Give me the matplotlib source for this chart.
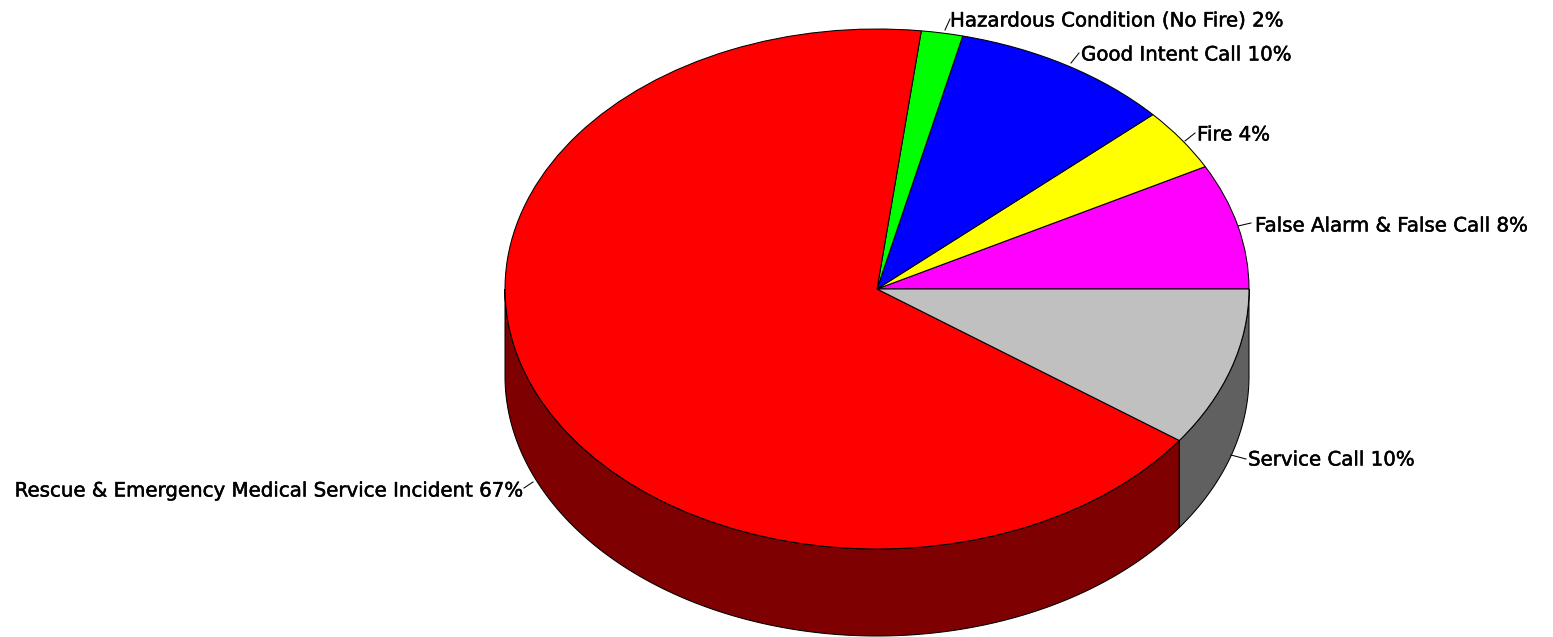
import numpy as np
import matplotlib
matplotlib.use("Agg")
import matplotlib.pyplot as plt
import matplotlib.patheffects as pe

# Data (share of the pie, counter-clockwise from east)
categories = ["False Alarm & False Call", "Fire", "Good Intent Call",
              "Hazardous Condition (No Fire)",
              "Rescue & Emergency Medical Service Incident", "Service Call"]
shares = [7.8, 3.9, 9.6, 1.8, 67.0, 9.9]
shown_percent = [8, 4, 10, 2, 67, 10]

# Styles and layout, in reference pixels
top_colors = ["#ff00ff", "#ffff00", "#0000ff", "#00ff00", "#ff0000", "#c0c0c0"]
wall_colors = ["#800080", "#808000", "#000080", "#008000", "#7f0000", "#606060"]
W, H = 1553, 637
CX, CY, RX, RY, DEPTH = 877, 289, 372, 260, 87
label_anchor = [(1255, 224, "left"), (1197, 133, "left"), (1081, 53, "left"),
                (950, 19, "left"), (521, 489, "right"), (1248, 458, "left")]
leaders = [((1238, 226), (1251, 223)), ((1185, 141), (1195, 133)),
           ((1071, 63), (1079, 53)), ((945, 30), (950, 19)),
           ((533, 482), (524, 488)), ((1231, 455), (1246, 459))]
LINE = 0.75


def ux(px):
    return (px - CX) / RX


def uy(py):
    return (CY - py) / RY


fig = plt.figure(figsize=(W / 100, H / 100), dpi=100, facecolor="white")
ax = fig.add_axes([0, 0, 1, 1])

# side wall: the lower half of the rim of each slice, dropped by the depth
edges = np.cumsum([0] + shares) / sum(shares) * 360.0
drop = DEPTH / RY
for start, end, color in zip(edges[:-1], edges[1:], wall_colors):
    lo, hi = max(start, 180.0), min(end, 360.0)
    if hi <= lo:
        continue
    t = np.radians(np.linspace(lo, hi, 200))
    xs = np.r_[np.cos(t), np.cos(t[::-1])]
    ys = np.r_[np.sin(t) - drop, np.sin(t[::-1])]
    ax.fill(xs, ys, facecolor=color, edgecolor="black", linewidth=LINE, zorder=1)

# top face
ax.pie(shares, colors=top_colors, startangle=0, counterclock=True, radius=1,
       center=(0, 0), normalize=True,
       wedgeprops=dict(edgecolor="black", linewidth=LINE, zorder=2))
ax.set_aspect("auto")
ax.set_xlim(ux(0), ux(W))
ax.set_ylim(uy(H), uy(0))
ax.set_axis_off()

for name, pct, (x, y, ha), (p0, p1) in zip(categories, shown_percent, label_anchor, leaders):
    ax.plot([ux(p0[0]), ux(p1[0])], [uy(p0[1]), uy(p1[1])], color="black",
            linewidth=LINE, zorder=3, clip_on=False)
    ax.text(ux(x), uy(y), f"{name} {pct}%", ha=ha, va="center_baseline",
            family="DejaVu Sans", fontsize=14.25, color="black", zorder=4,
            path_effects=[pe.withStroke(linewidth=0.35, foreground="black")])

fig.savefig("out.png", dpi=100, facecolor="white")
